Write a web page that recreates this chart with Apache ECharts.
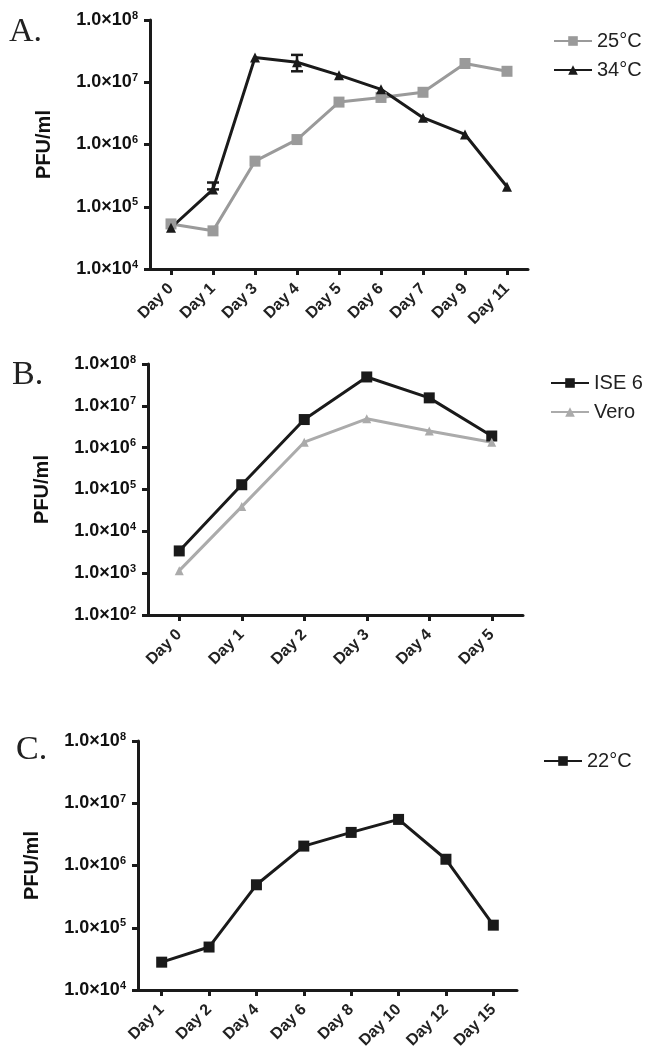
<!DOCTYPE html>
<html>
<head>
<meta charset="utf-8">
<script src="https://cdn.jsdelivr.net/npm/echarts@6/dist/echarts.min.js"></script>
<style>
html,body{margin:0;padding:0;background:#fff;}
#chart{width:645px;height:1057px;}
</style>
</head>
<body>
<div id="chart"></div>
<script>
// Panel A
const daysA = ['Day 0','Day 1','Day 3','Day 4','Day 5','Day 6','Day 7','Day 9','Day 11'];
const a25 = [5.3e4, 4.1e4, 5.4e5, 1.2e6, 4.8e6, 5.7e6, 6.9e6, 2.0e7, 1.5e7];
const a34 = [4.6e4, 1.9e5, 2.5e7, 2.1e7, 1.3e7, 7.7e6, 2.7e6, 1.45e6, 2.1e5];
// error bars for 34°C: [category index, low, high]
const a34err = [[1, 1.9e5, 2.45e5], [3, 1.5e7, 2.75e7]];
// Panel B
const daysB = ['Day 0','Day 1','Day 2','Day 3','Day 4','Day 5'];
const bISE = [3.4e3, 1.3e5, 4.7e6, 4.9e7, 1.55e7, 1.9e6];
const bVero = [1.15e3, 3.9e4, 1.35e6, 4.9e6, 2.5e6, 1.35e6];
// Panel C
const daysC = ['Day 1','Day 2','Day 4','Day 6','Day 8','Day 10','Day 12','Day 15'];
const c22 = [2.8e4, 4.9e4, 4.9e5, 2.05e6, 3.4e6, 5.5e6, 1.26e6, 1.1e5];

const BLACK = '#1a1a1a';
const GRAY = '#9a9a9a';
const LGRAY = '#ababab';
const FONT = 'Liberation Sans, Arial, sans-serif';

function yLabel(v){
  const e = Math.round(Math.log10(v));
  return '{b|1.0\u00d710}{s|' + e + '}';
}
function yAxis(gi, minV, maxV){
  return {
    type: 'log', logBase: 10, gridIndex: gi, min: minV, max: maxV,
    interval: 1,
    name: 'PFU/ml', nameLocation: 'middle', nameRotate: 90, nameGap: 96,
    nameTextStyle: {fontFamily: FONT, fontSize: 20, fontWeight: 'bold', color: '#111'},
    axisLine: {show: true, lineStyle: {color: BLACK, width: 3}},
    axisTick: {show: true, length: 6, lineStyle: {color: BLACK, width: 3}},
    minorTick: {show: false},
    splitLine: {show: false},
    axisLabel: {
      margin: 12, formatter: yLabel,
      rich: {
        b: {fontFamily: FONT, fontSize: 18, fontWeight: 'bold', color: '#111', lineHeight: 20},
        s: {fontFamily: FONT, fontSize: 11, fontWeight: 'bold', color: '#111', verticalAlign: 'top', lineHeight: 20, padding: [0,0,8,0]}
      }
    }
  };
}
function xAxis(gi, cats){
  return {
    type: 'category', gridIndex: gi, data: cats, boundaryGap: true,
    axisLine: {show: true, lineStyle: {color: BLACK, width: 3}},
    axisTick: {show: true, alignWithLabel: true, length: 6, lineStyle: {color: BLACK, width: 3}},
    splitLine: {show: false},
    axisLabel: {rotate: 45, margin: 17, interval: 0, fontFamily: FONT, fontSize: 16, fontWeight: 'bold', color: '#222'}
  };
}
function lineSeries(name, gi, data, color, symbol, size){
  return {
    name: name, type: 'line', xAxisIndex: gi, yAxisIndex: gi, data: data,
    symbol: symbol, symbolSize: size, showAllSymbol: true,
    lineStyle: {color: color, width: 3},
    itemStyle: {color: color, borderWidth: 0},
    emphasis: {disabled: true}, animation: false, z: 3
  };
}
function legendCfg(left, top, names){
  return {
    data: names, orient: 'vertical', left: left, top: top, padding: 0,
    itemWidth: 38, itemHeight: 12, itemGap: 9,
    textStyle: {fontFamily: FONT, fontSize: 20, color: '#222', lineHeight: 20},
    selectedMode: false
  };
}

const chart = echarts.init(document.getElementById('chart'), null, {renderer: 'canvas'});
chart.setOption({
  animation: false,
  backgroundColor: '#fff',
  grid: [
    {left: 150, top: 20, width: 378, height: 249},
    {left: 148, top: 364, width: 375, height: 251},
    {left: 138, top: 741, width: 379, height: 249}
  ],
  xAxis: [xAxis(0, daysA), xAxis(1, daysB), xAxis(2, daysC)],
  yAxis: [yAxis(0, 1e4, 1e8), yAxis(1, 1e2, 1e8), yAxis(2, 1e4, 1e8)],
  legend: [
    legendCfg(553, 31, ['25°C', '34°C']),
    legendCfg(550, 373, ['ISE 6', 'Vero']),
    legendCfg(543, 751, ['22°C'])
  ],
  graphic: [
    {type: 'text', left: 9, top: 15, style: {text: 'A.', font: '34px "Liberation Serif", serif', fill: '#222'}},
    {type: 'text', left: 12, top: 358, style: {text: 'B.', font: '34px "Liberation Serif", serif', fill: '#222'}},
    {type: 'text', left: 16, top: 733, style: {text: 'C.', font: '34px "Liberation Serif", serif', fill: '#222'}}
  ],
  series: [
    lineSeries('25°C', 0, a25, GRAY, 'rect', 11),
    lineSeries('34°C', 0, a34, BLACK, 'triangle', 10),
    {
      type: 'custom', xAxisIndex: 0, yAxisIndex: 0, data: a34err, z: 4,
      renderItem: function(params, api){
        const lo = api.coord([api.value(0), api.value(1)]);
        const hi = api.coord([api.value(0), api.value(2)]);
        const w = 6;
        const st = {stroke: BLACK, lineWidth: 2.5};
        return {type: 'group', children: [
          {type: 'line', shape: {x1: hi[0], y1: hi[1], x2: lo[0], y2: lo[1]}, style: st},
          {type: 'line', shape: {x1: hi[0]-w, y1: hi[1], x2: hi[0]+w, y2: hi[1]}, style: st},
          {type: 'line', shape: {x1: lo[0]-w, y1: lo[1], x2: lo[0]+w, y2: lo[1]}, style: st}
        ]};
      },
      animation: false
    },
    lineSeries('ISE 6', 1, bISE, BLACK, 'rect', 11),
    lineSeries('Vero', 1, bVero, LGRAY, 'triangle', 9),
    lineSeries('22°C', 2, c22, BLACK, 'rect', 11)
  ]
});
</script>
</body>
</html>
